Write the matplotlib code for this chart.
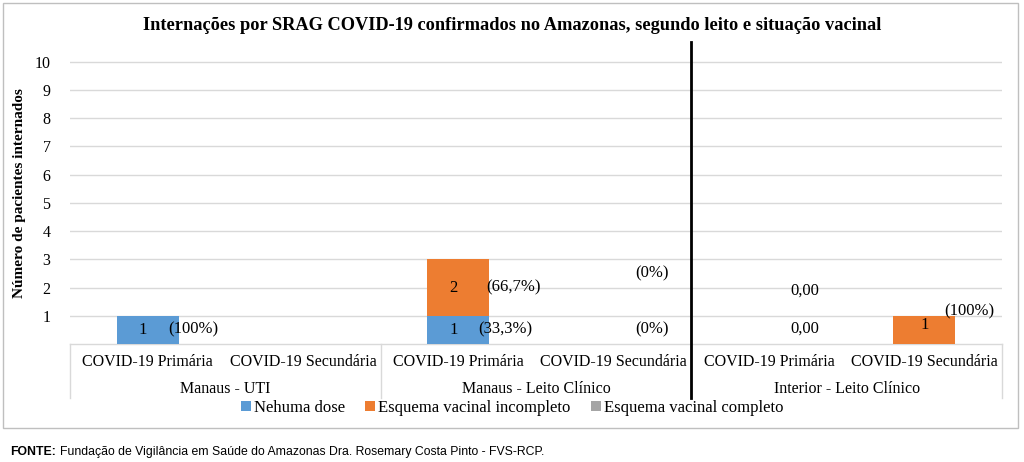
import matplotlib
matplotlib.use("Agg")
import matplotlib.pyplot as plt
from matplotlib.patches import Rectangle
from matplotlib.lines import Line2D

# data
subcats = ["COVID-19 Primária", "COVID-19 Secundária"] * 3
groups = ["Manaus - UTI", "Manaus - Leito Clínico", "Interior - Leito Clínico"]
series = ["Nehuma dose", "Esquema vacinal incompleto", "Esquema vacinal completo"]
nenhuma = [1, 0, 1, 0, 0, 0]
incompleto = [0, 0, 2, 0, 0, 1]
completo = [0, 0, 0, 0, 0, 0]
colors = ["#5B9BD5", "#ED7D31", "#A5A5A5"]

# data labels (value, percentage) as printed on the chart
lab_nenhuma = ["1", "", "1", "", "0,00", ""]
pct_nenhuma = ["(100%)", "", "(33,3%)", "(0%)", "", ""]
lab_incomp = ["", "", "2", "", "0,00", "1"]
pct_incomp = ["", "", "(66,7%)", "(0%)", "", "(100%)"]

plt.rcParams["font.family"] = ["Liberation Serif", "DejaVu Serif"]

W, H = 1024, 462
fig = plt.figure(figsize=(W / 100, H / 100), dpi=100)

# outer chart border
fig.patches.append(Rectangle((3 / W, 1 - 428 / H), 1015 / W, 425 / H,
                             transform=fig.transFigure, fill=False,
                             edgecolor="#BFBFBF", linewidth=1))

ax = fig.add_axes([70 / W, 1 - 344 / H, 932 / W, 302 / H])
x = list(range(len(subcats)))
w = 0.4
ax.bar(x, nenhuma, w, color=colors[0], label=series[0], zorder=3)
ax.bar(x, incompleto, w, bottom=nenhuma, color=colors[1], label=series[1], zorder=3)
bot2 = [a + b for a, b in zip(nenhuma, incompleto)]
ax.bar(x, completo, w, bottom=bot2, color=colors[2], label=series[2], zorder=3)

ax.set_xlim(-0.5, 5.5)
ax.set_ylim(0, 10.7)
ax.set_yticks(range(1, 11))
ax.tick_params(axis="y", length=0, labelsize=11.5, pad=14)
ax.set_xticks([])
ax.grid(axis="y", color="#D9D9D9", linewidth=1, zorder=0)
for s in ax.spines.values():
    s.set_visible(False)
ax.set_ylabel("Número de pacientes internados", fontsize=11, fontweight="bold", labelpad=6)

fs = 12
# labels for first segment
for i in x:
    if nenhuma[i] > 0:
        yc = nenhuma[i] / 2
        ax.text(i - 0.03, yc, lab_nenhuma[i], ha="center", va="center", fontsize=fs, zorder=4)
        ax.text(i + 0.13, yc, pct_nenhuma[i], ha="left", va="center", fontsize=fs, zorder=4)
    else:
        if lab_nenhuma[i]:
            ax.text(i + 0.23, 0.53, lab_nenhuma[i], ha="center", va="center", fontsize=fs)
        if pct_nenhuma[i]:
            ax.text(i + 0.25, 0.53, pct_nenhuma[i], ha="center", va="center", fontsize=fs)
# labels for second segment
for i in x:
    if incompleto[i] > 0 and nenhuma[i] > 0:
        yc = nenhuma[i] + incompleto[i] / 2
        ax.text(i - 0.03, yc, lab_incomp[i], ha="center", va="center", fontsize=fs, zorder=4)
        ax.text(i + 0.18, yc, pct_incomp[i], ha="left", va="center", fontsize=fs, zorder=4)
    elif incompleto[i] > 0:
        ax.text(i, incompleto[i] * 0.67, lab_incomp[i], ha="center", va="center", fontsize=fs, zorder=4)
        ax.text(i + 0.29, incompleto[i] * 1.17, pct_incomp[i], ha="center", va="center", fontsize=fs, zorder=4)
    else:
        if lab_incomp[i]:
            ax.text(i + 0.23, 1.88, lab_incomp[i], ha="center", va="center", fontsize=fs)
        if pct_incomp[i]:
            ax.text(i + 0.25, 2.5, pct_incomp[i], ha="center", va="center", fontsize=fs)

# category axis box
ah = 302.0
def yf(py):
    return -(py - 344) / ah

tr = ax.get_xaxis_transform()
ax.add_line(Line2D([-0.5, 5.5], [0, 0], transform=tr, color="#D9D9D9", lw=1, clip_on=False))
for b in [-0.5, 1.5, 3.5, 5.5]:
    ax.add_line(Line2D([b, b], [0, yf(398)], transform=tr, color="#D9D9D9", lw=1, clip_on=False))
for i, c in enumerate(subcats):
    ax.text(i, yf(362), c, transform=tr, ha="center", va="center", fontsize=11.5)
for g, name in enumerate(groups):
    ax.text(2 * g + 0.5, yf(389), name, transform=tr, ha="center", va="center", fontsize=11.5)

# black separator line
ax.add_line(Line2D([3.5, 3.5], [1, yf(398)], transform=tr, color="black", lw=2, clip_on=False, zorder=5))

fig.text(0.5, 1 - 25 / H, "Internações por SRAG COVID-19 confirmados no Amazonas, segundo leito e situação vacinal",
         ha="center", va="center", fontsize=13.2, fontweight="bold")

fig.legend(loc="center", bbox_to_anchor=(0.5, 1 - 408 / H), ncol=3, frameon=False,
           fontsize=12, handlelength=0.6, handleheight=0.6, handletextpad=0.2,
           columnspacing=1.2, borderpad=0)

t1 = fig.text(10 / W, 1 - 452 / H, "FONTE:", ha="left", va="center", fontsize=8.8,
              fontweight="bold", family="Liberation Sans")
fig.canvas.draw()
bb = t1.get_window_extent()
fig.text((bb.x1 + 4) / W, 1 - 452 / H,
         "Fundação de Vigilância em Saúde do Amazonas Dra. Rosemary Costa Pinto - FVS-RCP.",
         ha="left", va="center", fontsize=8.8, family="Liberation Sans")

fig.savefig("out.png", dpi=100)
